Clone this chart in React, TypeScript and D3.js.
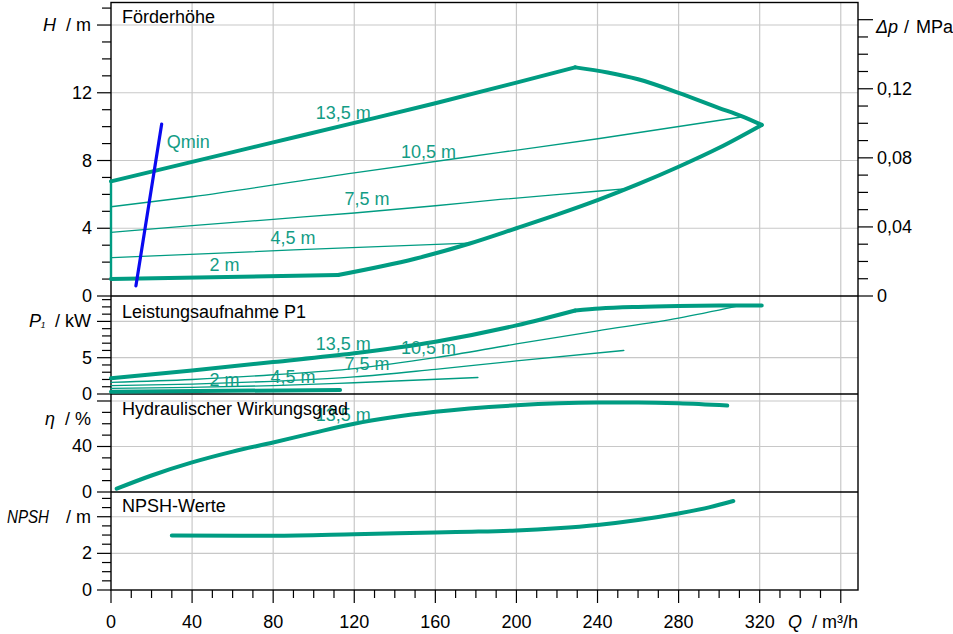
import React, { useEffect } from 'react';
import * as d3 from 'd3';

// ---------- data ----------
const Q_MAJOR = [0, 40, 80, 120, 160, 200, 240, 280, 320, 360];
const Q_LABELS = ['0', '40', '80', '120', '160', '200', '240', '280', '320'];
const HEADS = ['13,5 m', '10,5 m', '7,5 m', '4,5 m', '2 m'];
const LABEL_Q = [114.6, 156.6, 126.3, 89.8, 56];

// Förderhöhe H [m]
const H_13_5 = [[0, 6.77], [40, 7.92], [80, 9.07], [120, 10.22], [160, 11.38], [200, 12.6], [229, 13.5]];
const H_MAX_RIGHT = [[229, 13.5], [245, 13.2], [260, 12.8], [280, 12.0], [300, 11.1], [311, 10.62], [321, 10.1]];
const H_MAX_LOWER = [[112, 1.24], [150, 2.2], [177, 3.1], [200, 4.0], [220, 4.8], [241, 5.7], [260, 6.6], [280, 7.63], [300, 8.75], [321, 10.1]];
const H_10_5 = [[0, 5.27], [40, 5.86], [120, 7.27], [192, 8.48], [241, 9.3], [311, 10.57]];
const H_7_5 = [[0, 3.76], [40, 4.15], [80, 4.53], [120, 4.9], [160, 5.33], [192, 5.7], [241, 6.2], [253, 6.33]];
const H_4_5 = [[0, 2.26], [90, 2.72], [177, 3.12]];
const H_2 = [[0, 1.0], [112, 1.24]];
const H_ZERO = [[0, 1.0], [0, 6.77]];
const QMIN = [[12.3, 0.6], [25, 10.15]];
const H_LABEL_VAL = [10.82, 8.52, 5.71, 3.44, 1.83];
const QMIN_LABEL = [27.5, 9.07];

// Leistungsaufnahme P1 [kW]
const P_13_5_A = [[0, 2.16], [40, 3.25], [80, 4.4], [120, 5.6], [160, 7.2], [200, 9.45], [229, 11.5]];
const P_13_5_B = [[229, 11.5], [241, 11.78], [260, 12.0], [280, 12.12], [300, 12.18], [321, 12.2]];
const P_10_5 = [[0, 1.6], [40, 2.0], [80, 2.65], [120, 3.5], [160, 5.0], [200, 6.9], [240, 8.7], [280, 10.45], [309, 12.1]];
const P_7_5 = [[0, 1.14], [40, 1.35], [80, 1.75], [120, 2.35], [160, 3.4], [200, 4.55], [253, 6.0]];
const P_4_5 = [[0, 0.78], [40, 0.92], [80, 1.15], [120, 1.55], [181, 2.27]];
const P_2 = [[0, 0.32], [113, 0.55]];
const P_LABEL_VAL = [6.89, 6.29, 4.13, 2.38, 1.93];

// Hydraulischer Wirkungsgrad [%]
const ETA = [[2.8, 2.9], [20, 14.5], [40, 26], [60, 35.5], [80, 43.5], [100, 52], [120, 60], [160, 70.5], [200, 76.2], [240, 78.6], [260, 78.7], [280, 78], [304, 76]];
const ETA_LABEL_VAL = 67.7;

// NPSH [m]
const NPSH = [[30, 2.98], [80, 2.96], [120, 3.04], [160, 3.14], [178, 3.18], [200, 3.25], [220, 3.37], [240, 3.55], [260, 3.82], [280, 4.18], [295, 4.51], [307, 4.86]];

// axis ticks
const H_TICKS = d3.range(0, 18, 1);
const H_MAJOR = [0, 4, 8, 12, 16];
const H_LABELS = ['0', '4', '8', '12'];
const DP_TICKS = d3.range(0, 17, 1).map((d) => d / 100);
const DP_MAJOR = [0, 0.04, 0.08, 0.12, 0.16];
const DP_LABELS = ['0', '0,04', '0,08', '0,12'];
const P_TICKS = d3.range(0, 14, 1);
const P_MAJOR = [0, 5, 10];
const P_LABELS = ['0', '5'];
const ETA_TICKS = d3.range(0, 90, 10);
const ETA_MAJOR = [0, 40, 80];
const ETA_LABELS = ['0', '40'];
const N_TICKS = d3.range(0, 5.5, 0.5);
const N_MAJOR = [0, 2, 4];
const N_LABELS = ['0', '2'];

// ---------- styles ----------
const W = 953;
const H = 634;
const GREEN = '#009c82';
const GREEN_TXT = '#139c85';
const GRID = '#c8c8c8';
const FONT = '"Liberation Sans", Arial, Helvetica, sans-serif';
const FS = 18;
const NB = '\u00a0';

const x = d3.scaleLinear().domain([0, 368.5]).range([111, 858]);
const yH = d3.scaleLinear().domain([0, 17.33]).range([296, 2.5]);
const yDp = d3.scaleLinear().domain([0, 17.33 / 101.97]).range([296, 2.5]);
const yP = d3.scaleLinear().domain([0, 13.5]).range([394, 296]);
const yE = d3.scaleLinear().domain([0, 86.15]).range([492, 394]);
const yN = d3.scaleLinear().domain([0, 5.35]).range([590, 492]);

const L = x(0);
const R = x(368.5);

function lineFor(ys: d3.ScaleLinear<number, number>, curve: any = d3.curveMonotoneX) {
  return d3
    .line<number[]>()
    .x((d) => x(d[0]))
    .y((d) => ys(d[1]))
    .curve(curve);
}

function Curve({ data, ys, w, color = GREEN, curve }: any) {
  return (
    <path
      d={lineFor(ys, curve || d3.curveMonotoneX)(data) || ''}
      fill="none"
      stroke={color}
      strokeWidth={w}
      strokeLinecap="round"
      strokeLinejoin="round"
    />
  );
}

function LeftTicks({ ys, ticks, major }: any) {
  return (
    <g>
      {ticks.map((t: number, i: number) => {
        const isMajor = major.some((m: number) => Math.abs(m - t) < 1e-9);
        return (
          <line key={i} x1={L - (isMajor ? 14 : 9)} x2={L} y1={ys(t)} y2={ys(t)} stroke="#000" strokeWidth={1.2} />
        );
      })}
    </g>
  );
}

export default function App() {
  useEffect(() => {
    document.body.style.margin = '0';
    document.body.style.overflow = 'hidden';
  }, []);

  const gridX = Q_MAJOR.filter((q) => q > 0);
  const panels = [
    { ys: yH, lines: [4, 8, 12, 16] },
    { ys: yP, lines: [5, 10] },
    { ys: yE, lines: [40, 80] },
    { ys: yN, lines: [2, 4] },
  ];

  const qMinorTicks = d3.range(0, 370, 10);

  return (
    <svg width={W} height={H} style={{ position: 'absolute', left: 0, top: 0, background: '#fff' }} fontFamily={FONT} fontSize={FS}>
      <rect x={0} y={0} width={W} height={H} fill="#fff" />
      {/* grid */}
      <g stroke={GRID} strokeWidth={1.2}>
        {gridX.map((q) => (
          <line key={'gx' + q} x1={x(q)} x2={x(q)} y1={yH.range()[1]} y2={yN(0)} />
        ))}
        {panels.map((p, i) =>
          p.lines.map((v) => <line key={'gy' + i + '-' + v} x1={L} x2={R} y1={p.ys(v)} y2={p.ys(v)} />)
        )}
      </g>

      {/* frame */}
      <g stroke="#000" strokeWidth={1.4} fill="none">
        <rect x={L} y={yH.range()[1]} width={R - L} height={yN(0) - yH.range()[1]} />
        <line x1={L} x2={R} y1={yH(0)} y2={yH(0)} />
        <line x1={L} x2={R} y1={yP(0)} y2={yP(0)} />
        <line x1={L} x2={R} y1={yE(0)} y2={yE(0)} />
      </g>

      {/* left ticks */}
      <LeftTicks ys={yH} ticks={H_TICKS} major={H_MAJOR} />
      <LeftTicks ys={yP} ticks={P_TICKS} major={P_MAJOR} />
      <LeftTicks ys={yE} ticks={ETA_TICKS} major={ETA_MAJOR} />
      <LeftTicks ys={yN} ticks={N_TICKS} major={N_MAJOR} />

      {/* right ticks */}
      <g>
        {DP_TICKS.map((t, i) => {
          const isMajor = DP_MAJOR.some((m) => Math.abs(m - t) < 1e-9);
          return <line key={i} x1={R} x2={R + (isMajor ? 15 : 10)} y1={yDp(t)} y2={yDp(t)} stroke="#000" strokeWidth={1.2} />;
        })}
      </g>

      {/* bottom ticks */}
      <g>
        {qMinorTicks.map((q) => {
          const isMajor = q % 40 === 0;
          return <line key={q} x1={x(q)} x2={x(q)} y1={yN(0)} y2={yN(0) + (isMajor ? 13 : 8)} stroke="#000" strokeWidth={1.2} />;
        })}
      </g>

      {/* tick labels */}
      <g fill="#000" textAnchor="end" dominantBaseline="central">
        {H_LABELS.map((s, i) => (
          <text key={'hl' + i} x={92} y={yH(H_MAJOR[i])}>{s}</text>
        ))}
        {P_LABELS.map((s, i) => (
          <text key={'pl' + i} x={92} y={yP(P_MAJOR[i])}>{s}</text>
        ))}
        {ETA_LABELS.map((s, i) => (
          <text key={'el' + i} x={92} y={yE(ETA_MAJOR[i])}>{s}</text>
        ))}
        {N_LABELS.map((s, i) => (
          <text key={'nl' + i} x={92} y={yN(N_MAJOR[i])}>{s}</text>
        ))}
        <text x={91} y={yH(16)}>
          <tspan fontStyle="italic">H</tspan>
          <tspan>{NB + NB + '/' + NB + 'm'}</tspan>
        </text>
        <text x={91} y={yP(10)}>
          <tspan fontStyle="italic">P</tspan>
          <tspan fontStyle="italic" fontSize={13}>₁</tspan>
          <tspan>{NB + NB + '/' + NB + 'kW'}</tspan>
        </text>
        <text x={91} y={yE(64)}>
          <tspan fontStyle="italic">η</tspan>
          <tspan>{NB + NB + '/' + NB + '%'}</tspan>
        </text>
        <text x={91} y={yN(4)}>{'/' + NB + 'm'}</text>
      </g>
      <text x={7} y={yN(4)} fontStyle="italic" dominantBaseline="central" textLength={42} lengthAdjust="spacingAndGlyphs" fill="#000">NPSH</text>

      <g fill="#000" textAnchor="start" dominantBaseline="central">
        {DP_LABELS.map((s, i) => (
          <text key={'dl' + i} x={877} y={yDp(DP_MAJOR[i])}>{s}</text>
        ))}
        <text x={876} y={27} fontStyle="italic">Δp</text>
        <text x={904} y={27}>/</text>
        <text x={916} y={27}>MPa</text>
      </g>

      <g fill="#000" textAnchor="middle" dominantBaseline="central">
        {Q_LABELS.map((s, i) => (
          <text key={'ql' + i} x={x(Q_MAJOR[i])} y={622}>{s}</text>
        ))}
      </g>
      <text x={788} y={622} dominantBaseline="central" fill="#000">
        <tspan fontStyle="italic">Q</tspan>
        <tspan>{NB + NB + '/' + NB + 'm³/h'}</tspan>
      </text>

      {/* H panel curves */}
      <Curve data={H_ZERO} ys={yH} w={2.4} curve={d3.curveLinear} />
      <Curve data={H_10_5} ys={yH} w={1.3} />
      <Curve data={H_7_5} ys={yH} w={1.3} />
      <Curve data={H_4_5} ys={yH} w={1.3} />
      <Curve data={H_13_5} ys={yH} w={4} />
      <Curve data={H_MAX_RIGHT} ys={yH} w={4} />
      <Curve data={H_MAX_LOWER} ys={yH} w={4} />
      <Curve data={H_2} ys={yH} w={4} curve={d3.curveLinear} />
      <Curve data={QMIN} ys={yH} w={3.2} color="#0a0af0" curve={d3.curveLinear} />

      {/* P1 panel curves */}
      <Curve data={P_10_5} ys={yP} w={1.3} />
      <Curve data={P_7_5} ys={yP} w={1.3} />
      <Curve data={P_4_5} ys={yP} w={1.3} />
      <Curve data={P_13_5_A} ys={yP} w={4} />
      <Curve data={P_13_5_B} ys={yP} w={4} />
      <Curve data={P_2} ys={yP} w={4} curve={d3.curveLinear} />

      {/* eta, NPSH */}
      <Curve data={ETA} ys={yE} w={4} />
      <Curve data={NPSH} ys={yN} w={4} />

      {/* curve labels */}
      <g fill={GREEN_TXT} textAnchor="middle" dominantBaseline="central">
        {HEADS.map((s, i) => (
          <text key={'hh' + i} x={x(LABEL_Q[i])} y={yH(H_LABEL_VAL[i])}>{s}</text>
        ))}
        {HEADS.map((s, i) => (
          <text key={'ph' + i} x={x(LABEL_Q[i])} y={yP(P_LABEL_VAL[i])}>{s}</text>
        ))}
        <text x={x(LABEL_Q[0])} y={yE(ETA_LABEL_VAL)}>{HEADS[0]}</text>
      </g>
      <text x={x(QMIN_LABEL[0])} y={yH(QMIN_LABEL[1])} fill={GREEN_TXT} dominantBaseline="central">Qmin</text>

      {/* panel titles */}
      <g fill="#000" dominantBaseline="central">
        <text x={122} y={17}>Förderhöhe</text>
        <text x={122} y={312}>Leistungsaufnahme P1</text>
        <text x={122} y={409}>Hydraulischer Wirkungsgrad</text>
        <text x={122} y={506}>NPSH-Werte</text>
      </g>
    </svg>
  );
}
